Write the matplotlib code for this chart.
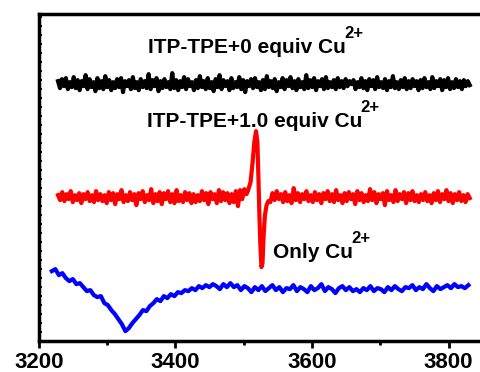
import numpy as np
import matplotlib
matplotlib.use("Agg")
import matplotlib.pyplot as plt
from matplotlib.ticker import MultipleLocator

plt.rcParams['font.family'] = ['Liberation Sans', 'DejaVu Sans']
plt.rcParams['font.weight'] = 'bold'

# EPR spectra, intensity in arbitrary units (stacked)
# ITP-TPE + 0 equiv Cu2+ : baseline 257
black_start, black_end = 3228, 3831
black_base = 257
black_noise = [
    3, -4, 5, -2, 6, -5, 2, -3, 7, -4, 4, -6, 3, -2, 9, -5, 5, -3, 2, -7, 6, -4, 3, -5, 8, -3, 4, -6, 2, -4,
    5, -3, 6, -8, 3, -2, 4, -5, 7, -4, 2, -6, 5, -3, 3, -4, 10, -5, 4, -2, 6, -7, 3, -4, 5, -3, 2, -5, 11, -4,
    4, -6, 3, -3, 7, -5, 5, -2, 2, -6, 4, -4, 8, -3, 3, -5, 6, -4, 2, -7, 5, -3, 9, -5, 4, -2, 3, -6, 6, -4,
    2, -3, 7, -5, 4, -8, 3, -2, 5, -4, 6, -3, 2, -6, 4, -5, 8, -3, 3, -4, 5, -7, 2, -3, 6, -5, 4, -2, 7, -4,
    3, -6, 5, -3, 2, -5, 9, -4, 4, -3, 6, -6, 3, -2, 5, -5, 7, -4, 2, -3, 4, -5, 6, -3, 3, -4, 5, -2, 3, 0,
    4, -5, 2, -3, 6, -4, 3, -6, 5, -2, 4, -5, 7, -3, 2, -4, 5, -6, 3, -3, 8, -4, 2, -5, 4, -3, 6, -5, 3, -4,
    5, -2, 3, -6, 4, -4, 6, -3, 2, -5, 7, -4, 3, -2, 5, -6, 4, -3, 6, -5, 2, -4, 5, -3, 3, -5, 4, -2, 3, -1,
]

# ITP-TPE + 1.0 equiv Cu2+ : baseline 144, with the radical signal near 3520 G
red_base = 144
red_left_start, red_left_end = 3228, 3504
red_left_noise = [
    2, -3, 5, -4, 3, -2, 6, -5, 2, -3, 4, -6, 3, -2, 5, -4, 2, -5, 6, -3,
    3, -4, 2, -6, 5, -3, 4, -7, 3, -2, 7, -5, 2, -4, 5, -3, 3, -8, 4, -2,
    6, -5, 2, -3, 8, -6, 3, -4, 5, -7, 4, -2, 6, -5, 3, -6, 7, -4, 2, -5,
    5, -3, 4, -6, 3, -5, 2, -4, 6, -3, 4, -7, 5, -2, 3, -6, 7, -4, 5, -3,
    4, -6, 3, -5, 6, -9, 7, -2, 8, 3,
]
red_sig_field = [3506, 3510, 3513, 3515.5, 3518, 3520, 3521.5, 3523, 3524.5, 3526, 3527.5, 3529, 3531, 3533.5, 3536]
red_sig = [6, 15, 35, 55, 66, 55, 20, -20, -50, -70, -66, -40, -18, -8, -4]
red_right_start, red_right_end = 3539, 3831
red_right_noise = [
    -5, 4, -3, 6, -2, 3, -5, 5, -4, 2, -6, 9, -3, 4, -5, 3, -2, 6, -4, 2,
    -5, 5, -3, 3, -6, 4, -2, 6, -4, 3, -5, 7, -3, 2, -6, 4, -4, 5, -2, 3,
    -7, 6, -3, 4, -5, 2, -4, 8, -3, 5, -6, 3, -2, 4, -8, 6, -3, 2, -5, 7,
    -4, 3, -2, 5, -6, 4, -3, 6, -4, 2, -5, 3, -3, 5, -4, 2, -6, 4, -3, 6,
    -5, 3, -2, 7, -4, 4, -6, 3, -3, 5, -4, 2, -5, 3, -1,
]

# Only Cu2+
blue_start, blue_end = 3219, 3829
blue = [
    70, 72, 66, 68, 63, 60, 62, 57, 58, 54, 50, 51, 46, 44, 45, 38, 36, 31, 27, 22,
    17, 10, 13, 18, 22, 26, 31, 30, 35, 38, 42, 40, 45, 43, 47, 45, 49, 48, 51, 50,
    53, 51, 55, 53, 56, 54, 57, 55, 52, 57, 54, 58, 54, 56, 51, 55,
    53, 49, 54, 51, 55, 50, 53, 56, 51, 54, 49, 53, 52, 56, 50, 54, 52, 49, 55, 51,
    53, 57, 50, 54, 52, 48, 53, 55, 51, 54, 50, 52, 49, 53, 51, 55, 50, 53, 52, 49,
    54, 51, 55, 52, 50, 54, 53, 56, 51, 54, 52, 57, 53, 50, 55, 52, 54, 56, 53, 57,
    54, 55, 53, 56,
]

labels = ['ITP-TPE+0 equiv Cu', 'ITP-TPE+1.0 equiv Cu', 'Only Cu']
label_pos = [(3360, 288), (3358, 214), (3543, 83)]
xticks = [3200, 3400, 3600, 3800]


def main():
    fig = plt.figure(figsize=(4.8, 3.72), dpi=100)
    ax = fig.add_axes([0.081, 0.083, 0.919, 0.879])

    bx = np.linspace(black_start, black_end, len(black_noise))
    ax.plot(bx, black_base + np.array(black_noise), color='black', lw=3, solid_joinstyle='round')

    rx = np.concatenate([np.linspace(red_left_start, red_left_end, len(red_left_noise)),
                         red_sig_field,
                         np.linspace(red_right_start, red_right_end, len(red_right_noise))])
    ry = red_base + np.concatenate([red_left_noise, red_sig, red_right_noise])
    ax.plot(rx, ry, color='#ff0000', lw=3, solid_joinstyle='round')

    ux = np.linspace(blue_start, blue_end, len(blue))
    ax.plot(ux, blue, color='#0000ff', lw=3, solid_joinstyle='round')

    for lab, (x, y) in zip(labels, label_pos):
        t = ax.text(x, y, lab, fontsize=15, fontweight='bold', va='baseline', ha='left')
        ax.annotate('2+', xy=(1, y), xycoords=(t, 'data'), xytext=(-1, 11),
                    textcoords='offset points', fontsize=12, fontweight='bold',
                    va='baseline', ha='left')

    ax.set_xlim(3200, 3846)
    ax.set_ylim(0, 327)
    ax.set_xticks(xticks)
    ax.xaxis.set_minor_locator(MultipleLocator(100))
    ax.yaxis.set_major_locator(MultipleLocator(9))
    ax.set_yticklabels([])
    ax.tick_params(axis='x', which='major', direction='out', length=5, width=2,
                   labelsize=16, pad=3)
    ax.tick_params(axis='x', which='minor', direction='out', length=3, width=2)
    ax.tick_params(axis='y', which='major', direction='in', length=2, width=1.5)
    for lab in ax.get_xticklabels():
        lab.set_fontweight('bold')

    ax.spines['right'].set_visible(False)
    for s in ['left', 'top', 'bottom']:
        ax.spines[s].set_linewidth(2.5)

    fig.savefig('out.png', dpi=100)


if __name__ == "__main__":
    main()
